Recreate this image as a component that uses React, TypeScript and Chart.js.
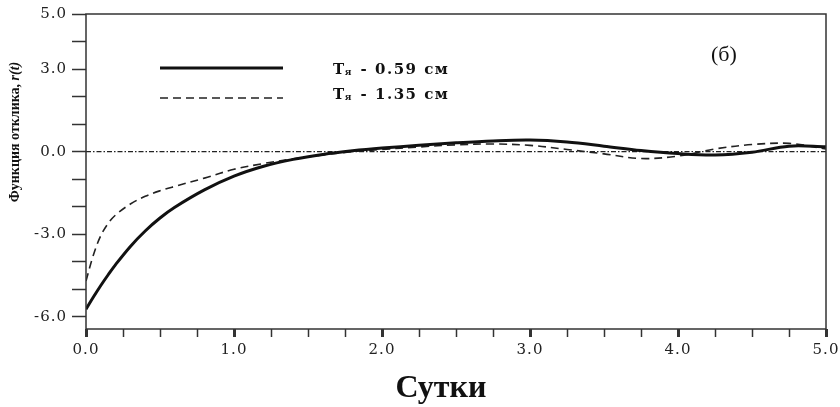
import React, { useEffect, useRef } from "react";
import { Chart, registerables } from "chart.js";

Chart.register(...registerables);

// ---- data ----
const days = [0, 0.05, 0.1, 0.15, 0.2, 0.3, 0.4, 0.5, 0.6, 0.8, 1.0, 1.2, 1.4, 1.6, 1.8, 2.0, 2.25, 2.5, 2.75, 3.0, 3.25, 3.5, 3.75, 4.0, 4.25, 4.5, 4.75, 5.0];
const responseT059 = [-5.72, -5.28, -4.86, -4.47, -4.1, -3.44, -2.88, -2.41, -2.02, -1.39, -0.89, -0.53, -0.28, -0.1, 0.03, 0.13, 0.23, 0.32, 0.39, 0.42, 0.35, 0.2, 0.04, -0.07, -0.12, -0.02, 0.2, 0.18];
const responseT135 = [-4.7, -3.75, -3.05, -2.6, -2.3, -1.9, -1.62, -1.42, -1.26, -0.96, -0.64, -0.43, -0.26, -0.12, 0.0, 0.08, 0.17, 0.25, 0.28, 0.23, 0.08, -0.08, -0.25, -0.16, 0.1, 0.26, 0.3, 0.1];
const baselineDays = [0, 5];
const baselineValues = [0, 0];
const seriesNames = ["0.59 см", "1.35 см"];
const yTickValues = [-6, -5, -4, -3, -2, -1, 0, 1, 2, 3, 4, 5];
const yLabeledTicks = [-6, -3, 0, 3, 5];
const xTitle = "Сутки";
const yTitleMain = "Функция отклика, ";
const yTitleVar = "r(t)";
const panelLabel = "(б)";

export default function App() {
  const ref = useRef<HTMLCanvasElement>(null);

  useEffect(() => {
    const canvas = ref.current;
    if (!canvas) return;
    const toXY = (xs: number[], ys: number[]) => xs.map((x, i) => ({ x, y: ys[i] }));
    const legendY = [68, 98];
    const legendTextY = [73.5, 98.5];

    const decor = {
      id: "decor",
      beforeDraw(chart: any) {
        chart.ctx.letterSpacing = "1px";
      },
      afterDraw(chart: any) {
        const c = chart.ctx as CanvasRenderingContext2D;
        const a = chart.chartArea;
        c.save();
        c.letterSpacing = "0px";
        // frame
        c.strokeStyle = "#333";
        c.lineWidth = 1.5;
        c.setLineDash([]);
        c.strokeRect(a.left, a.top, a.right - a.left, a.bottom - a.top);

        // legend
        const ds = chart.data.datasets;
        [0, 1].forEach((i) => {
          const d = ds[i];
          const y = legendY[i];
          c.beginPath();
          c.setLineDash(d.borderDash || []);
          c.lineWidth = d.borderWidth;
          c.strokeStyle = d.borderColor;
          c.moveTo(160, y);
          c.lineTo(283, y);
          c.stroke();
          c.setLineDash([]);
          c.fillStyle = "#111";
          c.textBaseline = "alphabetic";
          c.textAlign = "left";
          c.letterSpacing = "1.5px";
          let x = 333;
          const ty = legendTextY[i];
          c.font = "bold 15px 'DejaVu Serif'";
          c.fillText("T", x, ty);
          x += c.measureText("T").width;
          c.font = "bold 9px 'DejaVu Serif'";
          c.fillText("я", x - 1, ty + 1);
          x += c.measureText("я").width;
          c.font = "bold 15px 'DejaVu Serif'";
          c.fillText(" - " + seriesNames[i], x, ty);
        });
        c.letterSpacing = "0px";

        // panel label
        c.fillStyle = "#111";
        c.font = "22px 'Liberation Serif'";
        c.textAlign = "left";
        c.textBaseline = "alphabetic";
        c.fillText(panelLabel, 711, 61);

        // x title
        c.font = "bold 32px 'Liberation Serif'";
        c.textAlign = "center";
        c.fillText(xTitle, 441, 397);

        // y title
        c.translate(15, 132);
        c.rotate(-Math.PI / 2);
        c.textAlign = "left";
        c.textBaseline = "middle";
        const f1 = "bold 14px 'Liberation Serif'";
        const f2 = "bold italic 14px 'Liberation Serif'";
        c.font = f1;
        const w1 = c.measureText(yTitleMain).width;
        c.font = f2;
        const w2 = c.measureText(yTitleVar).width;
        let sx = -(w1 + w2) / 2;
        c.font = f1;
        c.fillText(yTitleMain, sx, 0);
        sx += w1;
        c.font = f2;
        c.fillText(yTitleVar, sx, 0);
        c.restore();
      },
    };

    const chart = new Chart(canvas, {
      type: "line",
      data: {
        datasets: [
          {
            label: "Tя - " + seriesNames[0],
            data: toXY(days, responseT059),
            borderColor: "#111",
            borderWidth: 3,
            pointRadius: 0,
            tension: 0.35,
            fill: false,
          },
          {
            label: "Tя - " + seriesNames[1],
            data: toXY(days, responseT135),
            borderColor: "#222",
            borderWidth: 1.6,
            borderDash: [8, 5],
            pointRadius: 0,
            tension: 0.35,
            fill: false,
          },
          {
            label: "zero",
            data: toXY(baselineDays, baselineValues),
            borderColor: "#222",
            borderWidth: 1.1,
            borderDash: [5, 2, 1.5, 2],
            pointRadius: 0,
            fill: false,
          },
        ],
      },
      options: {
        animation: false,
        responsive: true,
        maintainAspectRatio: false,
        layout: { padding: { top: 14, right: 14, left: 0, bottom: 0 } },
        plugins: {
          legend: { display: false },
          tooltip: { enabled: false },
          title: { display: false },
        },
        scales: {
          x: {
            type: "linear",
            min: 0,
            max: 5,
            border: { display: false },
            grid: {
              display: true,
              drawOnChartArea: false,
              drawTicks: true,
              tickLength: 8,
              tickColor: "#333",
              tickWidth: (ctx: any) => (Math.abs(ctx.tick.value - Math.round(ctx.tick.value)) < 1e-6 ? 3 : 1.5),
            },
            ticks: {
              stepSize: 0.25,
              autoSkip: false,
              maxRotation: 0,
              padding: 4,
              color: "#222",
              font: { family: "'DejaVu Serif'", size: 15 },
              callback: (v: any) => {
                const n = Number(v);
                return Math.abs(n - Math.round(n)) < 1e-6 ? n.toFixed(1) : "";
              },
            },
            afterFit: (scale: any) => {
              scale.height = 78;
              scale.paddingLeft = 0;
              scale.paddingRight = 0;
            },
          },
          y: {
            type: "linear",
            min: -6.44,
            max: 5,
            border: { display: false },
            grid: {
              display: true,
              drawOnChartArea: false,
              drawTicks: true,
              tickLength: 14,
              tickColor: "#333",
              tickWidth: 1.5,
            },
            afterBuildTicks: (scale: any) => {
              scale.ticks = yTickValues.map((v) => ({ value: v }));
            },
            ticks: {
              autoSkip: false,
              padding: 5,
              color: "#222",
              font: { family: "'DejaVu Serif'", size: 15 },
              callback: (v: any) => {
                const n = Number(v);
                return yLabeledTicks.includes(n) ? n.toFixed(1) : "";
              },
            },
            afterFit: (scale: any) => {
              scale.width = 86;
              scale.paddingTop = 0;
              scale.paddingBottom = 0;
            },
          },
        },
      },
      plugins: [decor],
    } as any);

    return () => chart.destroy();
  }, []);

  return (
    <div style={{ position: "absolute", left: 0, top: 0, width: 840, height: 407, background: "#fff" }}>
      <canvas ref={ref} width={840} height={407} />
    </div>
  );
}
